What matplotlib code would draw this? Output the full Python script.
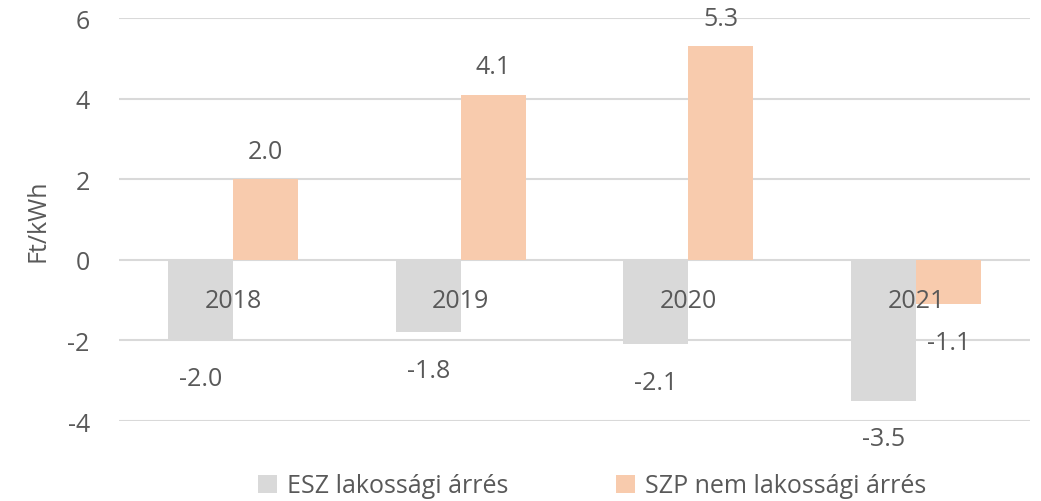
import numpy as np
import matplotlib.pyplot as plt

plt.rcParams['font.family'] = ['Open Sans', 'DejaVu Sans']
plt.rcParams['axes.unicode_minus'] = False

years = ['2018', '2019', '2020', '2021']
esz = [-2.0, -1.8, -2.1, -3.5]
szp = [2.0, 4.1, 5.3, -1.1]
series_names = ['ESZ lakossági árrés', 'SZP nem lakossági árrés']

txt = '#595959'
fs = 18
fig = plt.figure(figsize=(10.41, 5.02), dpi=100)
ax = fig.add_axes([119/1041, 1-422/502, (1030-119)/1041, (422-19)/502])

x = np.arange(len(years))
w = 0.285
b1 = ax.bar(x - w/2, esz, w, color='#D9D9D9', label=series_names[0], zorder=2)
b2 = ax.bar(x + w/2, szp, w, color='#F8CBAD', label=series_names[1], zorder=2)

for bars, vals in ((b1, esz), (b2, szp)):
    for r, v in zip(bars, vals):
        off = 28 if v > 0 else -38
        ax.annotate('%.1f' % v, (r.get_x() + r.get_width()/2, v), xytext=(0, off),
                    textcoords='offset pixels', ha='center', va='center',
                    fontsize=fs, color=txt, zorder=3)

# category labels sit just under the zero line
for xi, yr in zip(x, years):
    ax.annotate(yr, (xi, 0), xytext=(0, -41), textcoords='offset pixels',
                ha='center', va='center', fontsize=fs, color=txt, zorder=3)

ax.set_xlim(-0.5, 3.5)
ax.set_ylim(-4, 6)
ax.set_yticks([-4, -2, 0, 2, 4, 6])
ax.set_xticks([])
ax.grid(axis='y', color='#D9D9D9', linewidth=1.5, zorder=0)
ax.tick_params(axis='y', length=0, pad=21, labelsize=fs, labelcolor=txt)
for s in ax.spines.values():
    s.set_visible(False)
ax.set_ylabel('Ft/kWh', fontsize=fs, color=txt, labelpad=12)

fig.legend(loc='center', bbox_to_anchor=(592/1041, 1-487/502), ncol=2, frameon=False,
           fontsize=fs, labelcolor=txt, handlelength=0.75, handleheight=0.75,
           handletextpad=0.4, columnspacing=4.3)

fig.savefig('out.png', dpi=100)
